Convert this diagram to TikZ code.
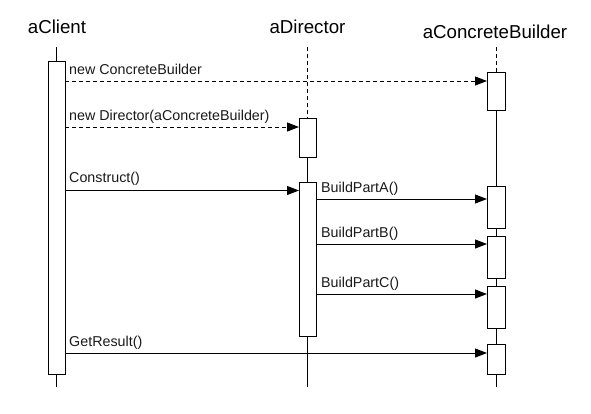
\documentclass[tikz,border=0pt]{standalone}
\usepackage{fontspec}
\setmainfont{Liberation Sans}
\usetikzlibrary{arrows.meta}
\begin{document}
\begin{tikzpicture}[x=1pt,y=-1pt,
  actbox/.style={draw, fill=white, line width=1pt, minimum width=17pt, inner sep=0pt, outer sep=0pt},
  lifeline/.style={line width=1pt},
  dashline/.style={line width=1pt, dash pattern=on 4pt off 3pt},
  msg/.style={line width=1pt, -{Triangle[length=12pt,width=9pt]}},
  dmsg/.style={msg, dash pattern=on 4pt off 3pt},
  title/.style={font=\fontsize{18.7}{22}\selectfont, anchor=base, inner sep=0pt},
  lbl/.style={font=\fontsize{14.3}{17}\selectfont, anchor=base west, inner sep=0pt, text=black!90}]
\useasboundingbox (0,0) rectangle (591,413);
% titles
\node[title] (tc) at (57,33) {aClient};
\node[title] (td) at (307.5,33) {aDirector};
\node[title] (tb) at (495,38) {aConcreteBuilder};
% lifeline ends
\coordinate (cTop) at (56.5,47);
\coordinate (cBot) at (56.5,387);
\coordinate (dTop) at (307.5,47);
\coordinate (dBot) at (307.5,387);
\coordinate (bTop) at (496,47);
\coordinate (bBot) at (496,387);
% lifelines
\draw[lifeline] (cTop) -- (cBot);
\draw[dashline] (dTop) -- (307.5,118);
\draw[lifeline] (307.5,157) -- (dBot);
\draw[dashline] (bTop) -- (496,72);
\draw[lifeline] (496,110) -- (bBot);
% activation boxes
\node[actbox, minimum height=313pt] (c1) at (56.5,217.5) {};
\node[actbox, minimum height=39pt] (d1) at (307.5,137.5) {};
\node[actbox, minimum height=154pt] (d2) at (307.5,259) {};
\node[actbox, minimum width=18pt, minimum height=38pt] (b1) at (496,91) {};
\node[actbox, minimum width=18pt, minimum height=42pt] (b2) at (496,207) {};
\node[actbox, minimum width=18pt, minimum height=42pt] (b3) at (496,257) {};
\node[actbox, minimum width=18pt, minimum height=42pt] (b4) at (496,307) {};
\node[actbox, minimum width=18pt, minimum height=30pt] (b5) at (496,359) {};
% message rows
\coordinate (m1) at (0,81);
\coordinate (m2) at (0,127);
\coordinate (m3) at (0,190.5);
\coordinate (m4) at (0,199);
\coordinate (m5) at (0,244);
\coordinate (m6) at (0,294);
\coordinate (m7) at (0,353);
% messages
\draw[dmsg] (c1.east |- m1) -- (b1.west |- m1);
\draw[dmsg] (c1.east |- m2) -- (d1.west |- m2);
\draw[msg] (c1.east |- m3) -- (d2.west |- m3);
\draw[msg] (d2.east |- m4) -- (b2.west |- m4);
\draw[msg] (d2.east |- m5) -- (b3.west |- m5);
\draw[msg] (d2.east |- m6) -- (b4.west |- m6);
\draw[msg] (c1.east |- m7) -- (b5.west |- m7);
% labels
\node[lbl] (l1) at (69,74) {new ConcreteBuilder};
\node[lbl] (l2) at (69,120) {new Director(aConcreteBuilder)};
\node[lbl] (l3) at (69,182) {Construct()};
\node[lbl] (l4) at (321,192) {BuildPartA()};
\node[lbl] (l5) at (321,237) {BuildPartB()};
\node[lbl] (l6) at (321,287) {BuildPartC()};
\node[lbl] (l7) at (69,346) {GetResult()};
\end{tikzpicture}
\end{document}
